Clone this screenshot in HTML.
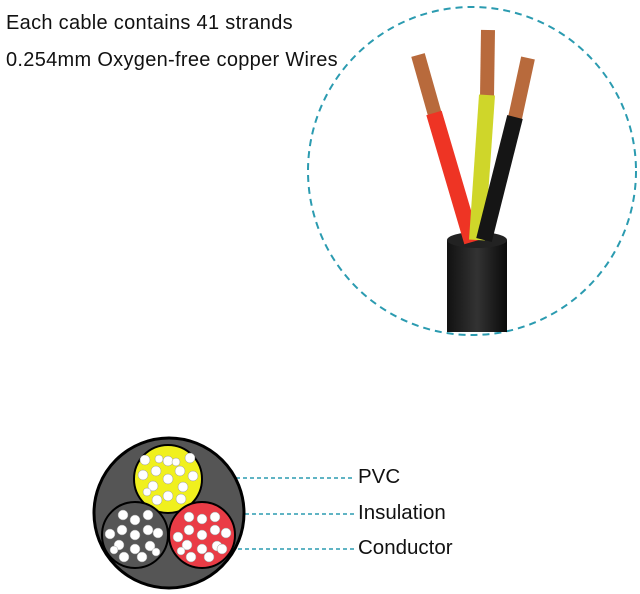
<!DOCTYPE html>
<html><head><style>
body{margin:0;width:640px;height:594px;background:#fff;overflow:hidden;position:relative;font-family:"Liberation Sans",sans-serif}
.t{position:absolute;left:6px;font-size:20px;color:#111;letter-spacing:0.3px}
.l{position:absolute;left:358px;font-size:20.5px;color:#111}
</style></head><body>
<div class="t" style="top:12px">Each cable contains 41 strands</div>
<div class="t" style="top:49px">0.254mm Oxygen-free copper Wires</div>
<svg width="640" height="594" style="position:absolute;left:0;top:0">
<circle cx="472" cy="171" r="164" fill="none" stroke="#2b9bb0" stroke-width="2" stroke-dasharray="7,5"/>
<defs><linearGradient id="j" x1="0" x2="1"><stop offset="0" stop-color="#111"/><stop offset=".5" stop-color="#333"/><stop offset="1" stop-color="#0a0a0a"/></linearGradient></defs>
<rect x="447" y="240" width="60" height="92" fill="url(#j)"/>
<ellipse cx="477" cy="240" rx="30" ry="8" fill="#222"/>
<g stroke-linecap="butt">
<line x1="418" y1="55" x2="435" y2="115" stroke="#b86a3c" stroke-width="14"/>
<line x1="434" y1="113" x2="472" y2="242" stroke="#ee3424" stroke-width="16"/>
<line x1="488" y1="30" x2="487" y2="97" stroke="#b86a3c" stroke-width="14"/>
<line x1="487" y1="95" x2="477" y2="240" stroke="#cfd62a" stroke-width="16"/>
<line x1="528" y1="58" x2="515" y2="118" stroke="#b86a3c" stroke-width="14"/>
<line x1="515" y1="117" x2="484" y2="240" stroke="#151515" stroke-width="16"/>
</g>
<g stroke="#2b9bb0" stroke-width="1.5" stroke-dasharray="4,3">
<line x1="236" y1="478" x2="355" y2="478"/><line x1="245" y1="514" x2="355" y2="514"/><line x1="238" y1="549" x2="355" y2="549"/>
</g>
<circle cx="169" cy="513" r="75" fill="#555" stroke="#000" stroke-width="3"/>
<circle cx="168" cy="479" r="34" fill="#f0f01e" stroke="#000" stroke-width="2"/>
<circle cx="135" cy="535" r="33" fill="#555" stroke="#000" stroke-width="2"/>
<circle cx="202" cy="535" r="33" fill="#ea3c46" stroke="#000" stroke-width="2"/>
<g fill="#fff" stroke="#999" stroke-width=".5">
<circle cx="168" cy="479" r="5"/><circle cx="156" cy="471" r="5"/><circle cx="180" cy="471" r="5"/><circle cx="168" cy="461" r="5"/><circle cx="153" cy="486" r="5"/><circle cx="183" cy="487" r="5"/><circle cx="168" cy="496" r="5"/><circle cx="145" cy="460" r="5"/><circle cx="190" cy="458" r="5"/><circle cx="143" cy="475" r="5"/><circle cx="193" cy="476" r="5"/><circle cx="147" cy="492" r="4"/><circle cx="157" cy="500" r="5"/><circle cx="181" cy="499" r="5"/><circle cx="176" cy="462" r="4"/><circle cx="159" cy="459" r="4"/>
<circle cx="135" cy="535" r="5"/><circle cx="122" cy="530" r="5"/><circle cx="148" cy="530" r="5"/><circle cx="135" cy="520" r="5"/><circle cx="119" cy="545" r="5"/><circle cx="150" cy="546" r="5"/><circle cx="135" cy="549" r="5"/><circle cx="110" cy="534" r="5"/><circle cx="158" cy="533" r="5"/><circle cx="123" cy="515" r="5"/><circle cx="148" cy="515" r="5"/><circle cx="114" cy="550" r="4"/><circle cx="124" cy="557" r="5"/><circle cx="142" cy="557" r="5"/><circle cx="156" cy="552" r="4"/>
<circle cx="202" cy="535" r="5"/><circle cx="189" cy="530" r="5"/><circle cx="215" cy="530" r="5"/><circle cx="202" cy="519" r="5"/><circle cx="187" cy="545" r="5"/><circle cx="217" cy="546" r="5"/><circle cx="202" cy="549" r="5"/><circle cx="178" cy="537" r="5"/><circle cx="226" cy="533" r="5"/><circle cx="189" cy="517" r="5"/><circle cx="215" cy="517" r="5"/><circle cx="181" cy="551" r="4"/><circle cx="191" cy="557" r="5"/><circle cx="209" cy="557" r="5"/><circle cx="222" cy="549" r="5"/>
</g>
</svg>
<div class="l" style="top:465px">PVC</div>
<div class="l" style="top:501px">Insulation</div>
<div class="l" style="top:536px">Conductor</div>
</body></html>
